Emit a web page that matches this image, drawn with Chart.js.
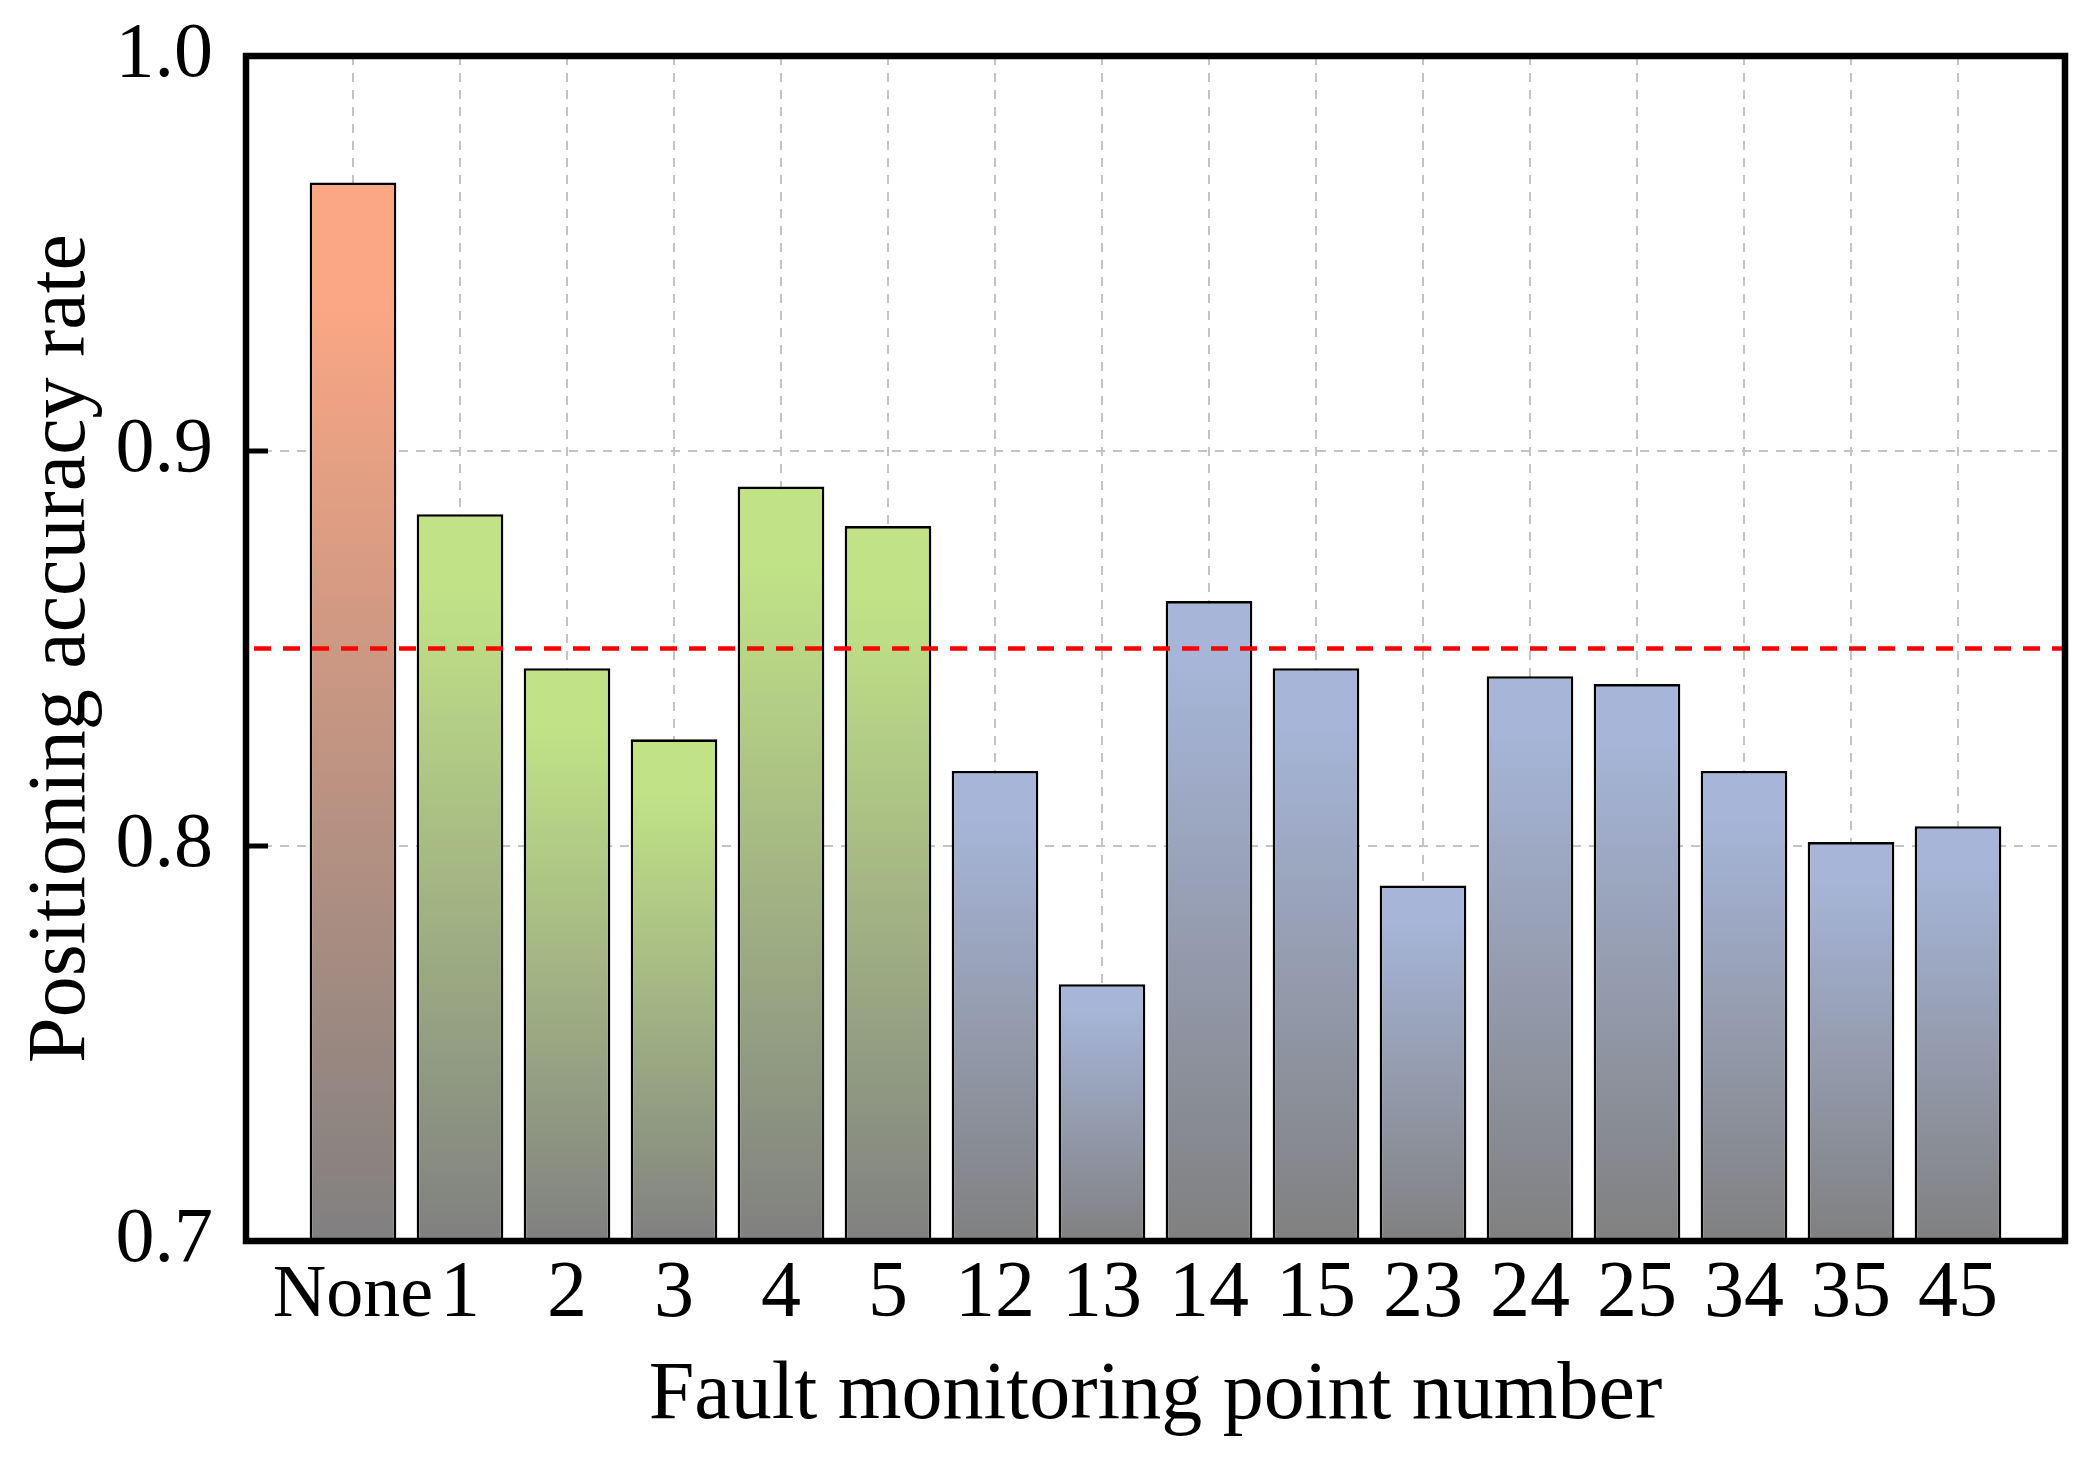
<!DOCTYPE html>
<html>
<head>
<meta charset="utf-8">
<script src="https://cdn.jsdelivr.net/npm/chart.js@4.4.1/dist/chart.umd.min.js"></script>
<style>
  html, body { margin: 0; padding: 0; background: #ffffff; }
  #wrap { width: 2086px; height: 1464px; }
  canvas { display: block; background: #ffffff; }
</style>
</head>
<body>
<div id="wrap"><canvas id="c" width="2086" height="1464"></canvas></div>
<script>
// ---- data ----
const categories = ['None', '1', '2', '3', '4', '5', '12', '13', '14', '15', '23', '24', '25', '34', '35', '45'];
const accuracy = [0.968, 0.884, 0.845, 0.827, 0.891, 0.881, 0.819, 0.765, 0.862, 0.845, 0.790, 0.843, 0.841, 0.819, 0.801, 0.805];
const groups = ['none', 'single', 'single', 'single', 'single', 'single',
                'double', 'double', 'double', 'double', 'double', 'double', 'double', 'double', 'double', 'double'];
const threshold = 0.85;
const yMin = 0.7;
const yMax = 1.0;
const yStep = 0.1;

// ---- styles ----
const groupColors = { none: '#FCA784', single: '#C1E386', double: '#A6B5D8' };
const baseGray = '#808080';
const FONT = "'Liberation Serif', 'Times New Roman', serif";

const points = accuracy.map((v, i) => ({ x: i, y: v }));

function barFill(ctx) {
  const chart = ctx.chart;
  const i = ctx.dataIndex;
  const color = groupColors[groups[i]] || '#999999';
  if (!chart.chartArea || i === undefined) return color;
  const ys = chart.scales.y;
  const top = ys.getPixelForValue(accuracy[i]);
  const bottom = ys.getPixelForValue(yMin);
  const g = chart.ctx.createLinearGradient(0, top, 0, bottom);
  g.addColorStop(0, color);
  g.addColorStop(0.1, color);
  g.addColorStop(1, baseGray);
  return g;
}

const framePlugin = {
  id: 'frame',
  afterDatasetsDraw(chart) {
    const { ctx, chartArea: a, scales } = chart;
    ctx.save();
    // threshold line
    const ty = scales.y.getPixelForValue(threshold);
    ctx.strokeStyle = '#FF0000';
    ctx.lineWidth = 4.5;
    ctx.setLineDash([17, 12]);
    ctx.beginPath();
    ctx.moveTo(a.left + 8, ty);
    ctx.lineTo(a.right, ty);
    ctx.stroke();
    ctx.setLineDash([]);
    // inward y ticks
    ctx.strokeStyle = '#000000';
    ctx.lineWidth = 5;
    scales.y.ticks.forEach(t => {
      const py = scales.y.getPixelForValue(t.value);
      ctx.beginPath();
      ctx.moveTo(a.left, py);
      ctx.lineTo(a.left + 22, py);
      ctx.stroke();
    });
    // frame
    ctx.lineWidth = 6.5;
    ctx.strokeRect(a.left, a.top, a.right - a.left, a.bottom - a.top);
    ctx.restore();
  }
};

new Chart(document.getElementById('c'), {
  type: 'bar',
  data: {
    datasets: [{
      data: points,
      backgroundColor: barFill,
      borderColor: '#000000',
      borderWidth: 2.6,
      borderSkipped: false,
      barPercentage: 0.81,
      categoryPercentage: 1.0
    }]
  },
  options: {
    responsive: false,
    animation: false,
    layout: { padding: { left: 0, right: 21, top: 56, bottom: 0 } },
    plugins: { legend: { display: false }, tooltip: { enabled: false } },
    scales: {
      x: {
        type: 'linear',
        offset: false,
        min: -1,
        max: categories.length,
        afterBuildTicks(scale) {
          scale.ticks = categories.map((c, i) => ({ value: i }));
        },
        afterFit(scale) { scale.height = 223; scale.paddingLeft = 0; scale.paddingRight = 0; },
        border: { display: false, dash: [9, 8] },
        grid: { color: '#c4c4c4', lineWidth: 2, drawTicks: false, offset: false },
        ticks: {
          autoSkip: false,
          maxRotation: 0,
          padding: 6,
          color: '#000000',
          font: (c) => (c.tick && categories[c.tick.value] === 'None')
            ? { family: FONT, size: 74, lineHeight: 1.351 }
            : { family: FONT, size: 80, lineHeight: 1.2 },
          callback: (v) => categories[v] !== undefined ? categories[v] : ''
        },
        title: {
          display: true,
          text: 'Fault monitoring point number',
          color: '#000000',
          font: { family: FONT, size: 82 },
          padding: { top: 0, bottom: 18 }
        }
      },
      y: {
        min: yMin,
        max: yMax,
        afterFit(scale) { scale.width = 246; scale.paddingTop = 0; scale.paddingBottom = 0; },
        border: { display: false, dash: [9, 8] },
        grid: { color: '#c4c4c4', lineWidth: 2, drawTicks: false },
        ticks: {
          stepSize: yStep,
          padding: 33,
          color: '#000000',
          font: { family: FONT, size: 78 },
          callback: (v) => Number(v).toFixed(1)
        },
        title: {
          display: true,
          text: 'Positioning accuracy rate',
          color: '#000000',
          font: { family: FONT, size: 82 },
          padding: { top: 13, bottom: 0 }
        }
      }
    }
  },
  plugins: [framePlugin]
});
</script>
</body>
</html>
